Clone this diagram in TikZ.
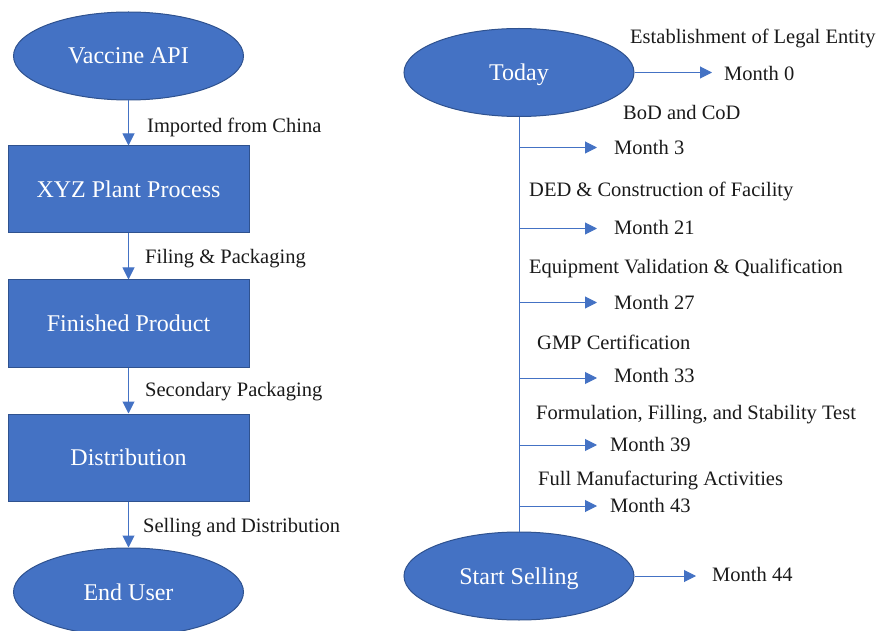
\documentclass[tikz,border=0pt]{standalone}
\usepackage{fontspec}
\setmainfont{Liberation Serif}
\newfontfamily\tnr{Liberation Serif}
\usetikzlibrary{shapes.geometric,arrows.meta}
\definecolor{obl}{HTML}{4472C4}
\definecolor{obd}{HTML}{2F528F}
\definecolor{txt}{HTML}{1A1A1A}
\tikzset{
  ell/.style={ellipse,draw=obd,line width=1pt,fill=obl,inner sep=0pt,
    minimum width=230pt,minimum height=88pt,text=white,
    font=\tnr\fontsize{24}{28}\selectfont,text height=16pt,text depth=0pt},
  box/.style={rectangle,draw=obd,line width=1pt,fill=obl,inner sep=0pt,
    minimum width=241pt,minimum height=87pt,text=white,
    font=\tnr\fontsize{24}{28}\selectfont,text height=16pt,text depth=0pt},
  lbl/.style={anchor=base west,inner sep=0pt,text=txt,font=\tnr\fontsize{20.5}{24}\selectfont},
  arr/.style={draw=obl,line width=1pt,-{Triangle[length=12pt,width=12pt]}},
  trunk/.style={draw=obl,line width=1pt}
}
\begin{document}
\begin{tikzpicture}[x=1pt,y=-1pt]
\useasboundingbox (0,0) rectangle (876,631);
% left flow
\node[ell] (api) at (128.5,56) {Vaccine API};
\node[box] (xyz) at (128.5,189.5) {XYZ Plant Process};
\node[box] (fin) at (128.5,323.5) {Finished Product};
\node[box] (dist) at (128.5,457.5) {Distribution};
\node[ell] (user) at (128.5,592) {End User};
\draw[arr] (api) -- (xyz);
\draw[arr] (xyz) -- (fin);
\draw[arr] (fin) -- (dist);
\draw[arr] (dist) -- (user);
\node[lbl] (l1) at (147,132.7) {Imported from China};
\node[lbl] (l2) at (145,264) {Filing \& Packaging};
\node[lbl] (l3) at (145,396) {Secondary Packaging};
\node[lbl] (l4) at (143,532.7) {Selling and Distribution};
% right timeline
\node[ell] (today) at (519,72.5) {Today};
\node[ell] (start) at (519,576) {Start Selling};
\draw[trunk] (today.south) -- (start.north);
\coordinate (e0) at (712,72.5);
\coordinate (e44) at (696,576);
\draw[arr] (today.east) -- (e0);
\draw[arr] (start.east) -- (e44);
\foreach \n/\y in {3/147.5,21/228.5,27/302.5,33/378,39/445,43/506}{
  \coordinate (b\n) at (519,\y);
  \coordinate (e\n) at (597,\y);
  \draw[arr] (b\n) -- (e\n);
}
\node[lbl] (t0) at (630,44) {Establishment of Legal Entity};
\node[lbl] (m0) at (724,81) {Month 0};
\node[lbl] (t3) at (623,120) {BoD and CoD};
\node[lbl] (m3) at (614,154.5) {Month 3};
\node[lbl] (t21) at (529,196.7) {DED \& Construction of Facility};
\node[lbl] (m21) at (614,234.5) {Month 21};
\node[lbl] (t27) at (529,273.5) {Equipment Validation \& Qualification};
\node[lbl] (m27) at (614,309.5) {Month 27};
\node[lbl] (t33) at (537,349.3) {GMP Certification};
\node[lbl] (m33) at (614,382.7) {Month 33};
\node[lbl] (t39) at (536,419) {Formulation, Filling, and Stability Test};
\node[lbl] (m39) at (610,451) {Month 39};
\node[lbl] (t43) at (538,485) {Full Manufacturing Activities};
\node[lbl] (m43) at (610,512.3) {Month 43};
\node[lbl] (m44) at (712,581) {Month 44};
\end{tikzpicture}
\end{document}
